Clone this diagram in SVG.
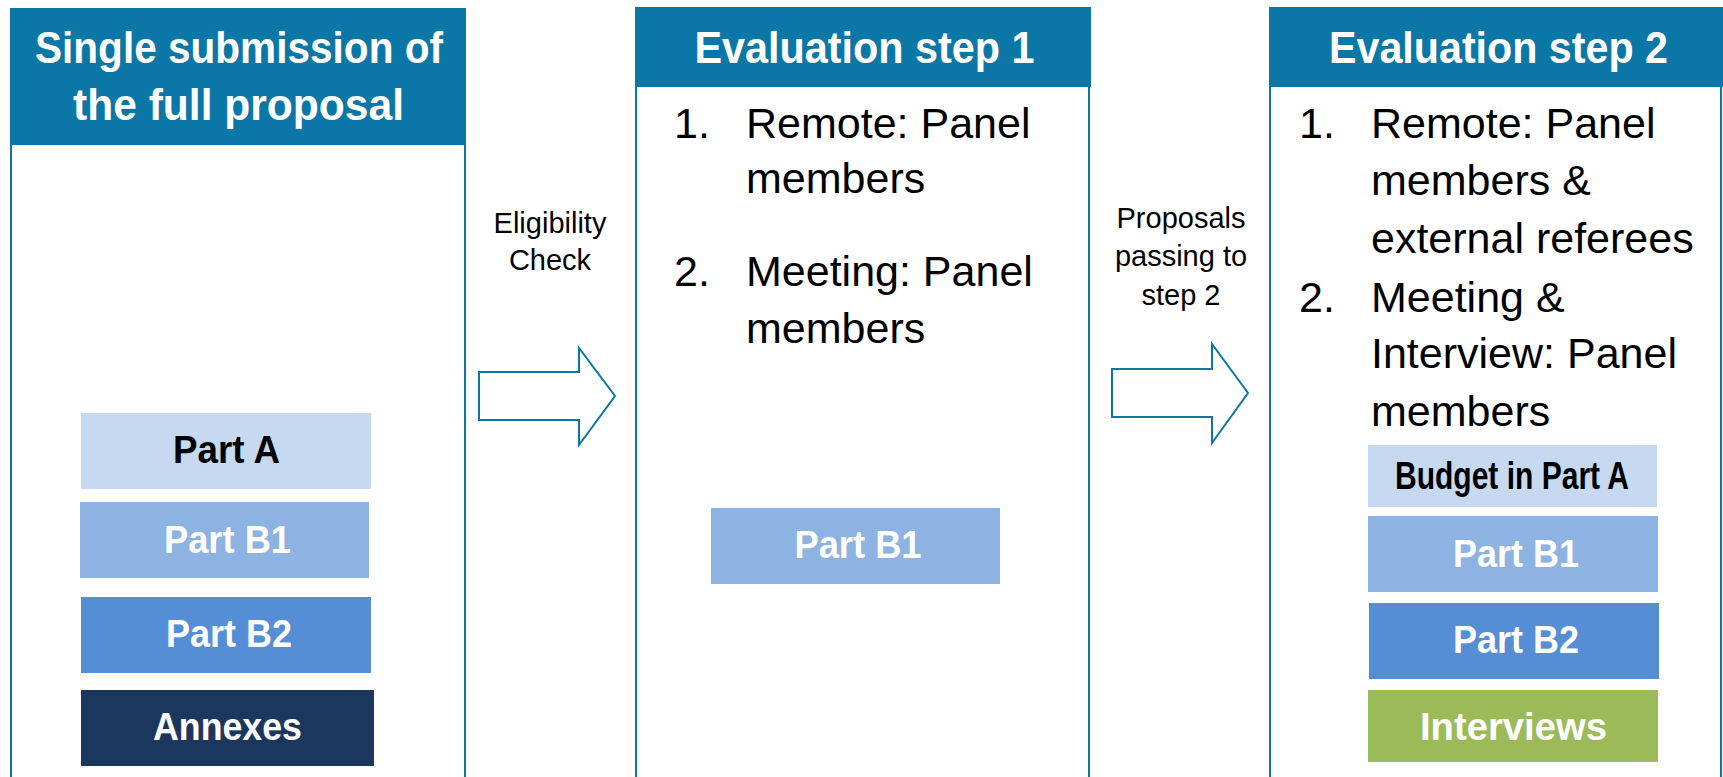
<svg xmlns="http://www.w3.org/2000/svg" width="1723" height="777" viewBox="0 0 1723 777">
<style>
.frame{fill:#ffffff;stroke:#0B77A6;stroke-width:2}
.hdr{fill:#0B77A6}
.ht{font-family:"Liberation Sans",Arial,sans-serif;font-weight:bold;font-size:45px;fill:#ffffff;text-anchor:middle}
.li{font-family:"Liberation Sans",Arial,sans-serif;font-size:43px;fill:#000000}
.lab{font-family:"Liberation Sans",Arial,sans-serif;font-size:29px;fill:#000000;text-anchor:middle}
.bt{font-family:"Liberation Sans",Arial,sans-serif;font-weight:bold;font-size:38px;fill:#ffffff;text-anchor:middle}
.btd{font-family:"Liberation Sans",Arial,sans-serif;font-weight:bold;font-size:38px;fill:#000000;text-anchor:middle}
.arr{fill:#ffffff;stroke:#0B77A6;stroke-width:2;stroke-linejoin:miter}
</style>
<rect width="1723" height="777" fill="#ffffff"/>

<g id="submission">
<rect class="frame" x="11" y="9" width="454" height="790"/>
<rect class="hdr" x="10" y="8" width="456" height="137"/>
<text class="ht" x="239" y="63" textLength="408" lengthAdjust="spacingAndGlyphs">Single submission of</text>
<text class="ht" x="238.5" y="120" textLength="331" lengthAdjust="spacingAndGlyphs">the full proposal</text>
</g>

<g id="partA-left">
<rect x="81" y="413" width="290" height="76" fill="#C6D9F0"/>
<text class="btd" x="226.5" y="463" textLength="107" lengthAdjust="spacingAndGlyphs">Part A</text>
</g>
<g id="partB1-left">
<rect x="80" y="502" width="289" height="76" fill="#8DB3E2"/>
<text class="bt" x="227.5" y="553" textLength="127" lengthAdjust="spacingAndGlyphs">Part B1</text>
</g>
<g id="partB2-left">
<rect x="81" y="597" width="290" height="76" fill="#558ED5"/>
<text class="bt" x="229" y="647" textLength="126" lengthAdjust="spacingAndGlyphs">Part B2</text>
</g>
<g id="annexes">
<rect x="81" y="690" width="293" height="76" fill="#1B375E"/>
<text class="bt" x="227.5" y="740" textLength="149" lengthAdjust="spacingAndGlyphs">Annexes</text>
</g>

<g id="step1">
<rect class="frame" x="636" y="8" width="453" height="790"/>
<rect class="hdr" x="635" y="7" width="456" height="80"/>
<text class="ht" x="864.5" y="63" textLength="340" lengthAdjust="spacingAndGlyphs">Evaluation step 1</text>
<text class="li" x="674" y="138">1.</text>
<text class="li" x="746" y="138">Remote: Panel</text>
<text class="li" x="746" y="193">members</text>
<text class="li" x="674" y="286">2.</text>
<text class="li" x="746" y="286">Meeting: Panel</text>
<text class="li" x="746" y="343">members</text>
</g>
<g id="partB1-step1">
<rect x="711" y="508" width="289" height="76" fill="#8DB3E2"/>
<text class="bt" x="858" y="558" textLength="127" lengthAdjust="spacingAndGlyphs">Part B1</text>
</g>

<g id="step2">
<rect class="frame" x="1270" y="8" width="451" height="790"/>
<rect class="hdr" x="1269" y="7" width="454" height="80"/>
<text class="ht" x="1498.5" y="63" textLength="339" lengthAdjust="spacingAndGlyphs">Evaluation step 2</text>
<text class="li" x="1299" y="138">1.</text>
<text class="li" x="1371" y="138">Remote: Panel</text>
<text class="li" x="1371" y="195">members &amp;</text>
<text class="li" x="1371" y="253">external referees</text>
<text class="li" x="1299" y="312">2.</text>
<text class="li" x="1371" y="312">Meeting &amp;</text>
<text class="li" x="1371" y="368">Interview: Panel</text>
<text class="li" x="1371" y="426">members</text>
</g>
<g id="budget-step2">
<rect x="1368" y="445" width="289" height="62" fill="#C6D9F0"/>
<text class="btd" x="1512" y="489" font-size="33" textLength="234" lengthAdjust="spacingAndGlyphs">Budget in Part A</text>
</g>
<g id="partB1-step2">
<rect x="1368" y="516" width="290" height="76" fill="#8DB3E2"/>
<text class="bt" x="1516" y="567" textLength="126" lengthAdjust="spacingAndGlyphs">Part B1</text>
</g>
<g id="partB2-step2">
<rect x="1369" y="603" width="290" height="76" fill="#558ED5"/>
<text class="bt" x="1516" y="653" textLength="126" lengthAdjust="spacingAndGlyphs">Part B2</text>
</g>
<g id="interviews">
<rect x="1368" y="690" width="290" height="72" fill="#9BBB59"/>
<text class="bt" x="1513.5" y="740" textLength="187" lengthAdjust="spacingAndGlyphs">Interviews</text>
</g>

<g id="connectors">
<polygon class="arr" points="479,372 579,372 579,348 615,396 579,445 579,420 479,420"/>
<text class="lab" x="550" y="233">Eligibility</text>
<text class="lab" x="550" y="270">Check</text>
<polygon class="arr" points="1112,369 1212,369 1212,344 1248,393 1212,443 1212,417 1112,417"/>
<text class="lab" x="1181" y="228">Proposals</text>
<text class="lab" x="1181" y="266">passing to</text>
<text class="lab" x="1181" y="305">step 2</text>
</g>
</svg>
